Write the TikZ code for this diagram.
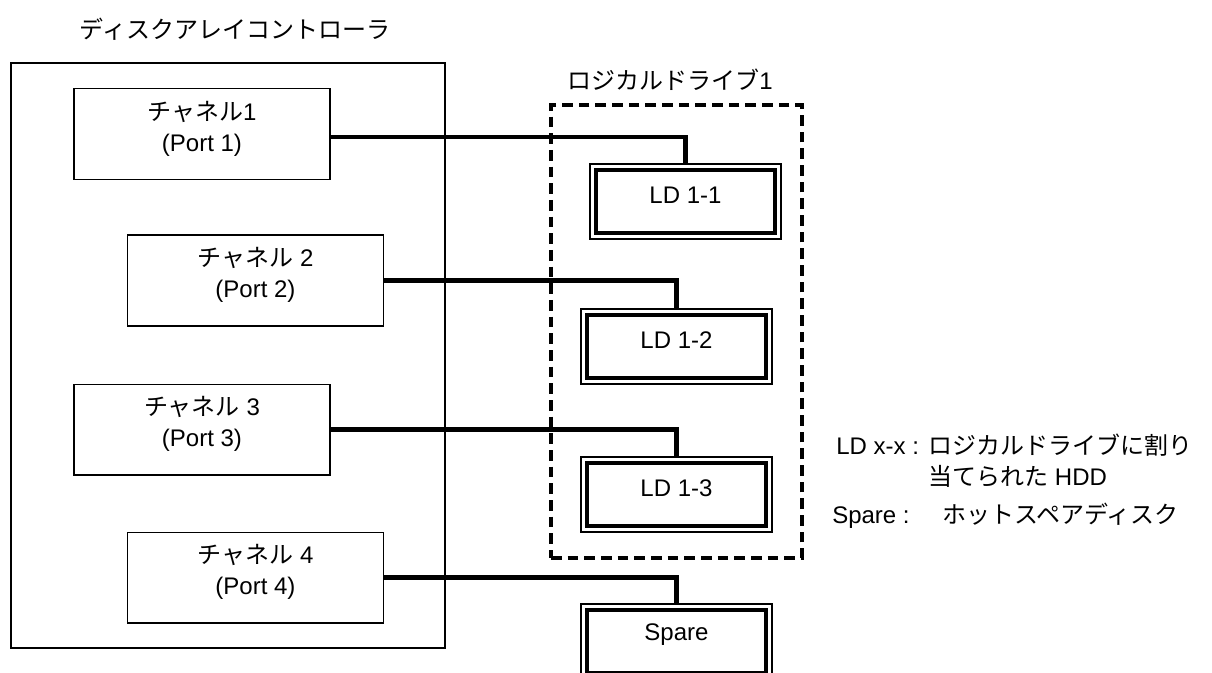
\documentclass[tikz,border=0pt]{standalone}
\usepackage{fontspec}
\setmainfont{Liberation Sans}
\newfontfamily\jp{Noto Sans CJK JP}
\begin{document}
\begin{tikzpicture}[x=0.75pt,y=-0.75pt,
  every node/.style={font=\fontsize{18}{23.25}\selectfont, inner sep=0pt},
  chbox/.style={draw, line width=1pt, minimum width=192pt, minimum height=68pt},
  ctrlbox/.style={draw, line width=1.6pt, minimum width=325.5pt, minimum height=438.75pt},
  grpbox/.style={draw, dash pattern=on 8pt off 4.5pt, line width=2.6pt, minimum width=188.25pt, minimum height=339.75pt},
  ldbox/.style={draw, line width=1.6pt, minimum width=143.25pt, minimum height=56.25pt,
    path picture={\draw[line width=2.4pt] ([shift={(4.5pt,-4.5pt)}]path picture bounding box.north west) rectangle ([shift={(-4.5pt,4.5pt)}]path picture bounding box.south east);}},
  wire/.style={line width=3.3pt},
  txt/.style={align=center},
  leg/.style={anchor=west, text height=0.8em, text depth=0.2em}
]
\useasboundingbox (0,0) rectangle (1212,673);

% controller
\node[ctrlbox] (ctrl) at (228,355.5) {};
\node (ttl) at (235,29) {\jp ディスクアレイコントローラ};

\node[chbox] (ch1) at (202,134) {};
\node[txt] (t1) at ([yshift=3.5pt]ch1.center) {{\jp チャネル}1\\(Port 1)};
\node[chbox] (ch2) at (255.5,280.5) {};
\node[txt] (t2) at ([yshift=4pt]ch2.center) {{\jp チャネル} 2\\(Port 2)};
\node[chbox] (ch3) at (202,429.5) {};
\node[txt] (t3) at ([yshift=4pt]ch3.center) {{\jp チャネル} 3\\(Port 3)};
\node[chbox] (ch4) at (255.5,577.5) {};
\node[txt] (t4) at ([yshift=4pt]ch4.center) {{\jp チャネル} 4\\(Port 4)};

% logical drive group
\node[grpbox] (grp) at (676.5,331.5) {};
\node (gl) at (670,80) {{\jp ロジカルドライブ}1};

\node[ldbox] (ld1) at (685.5,201.5) {};
\node (l1) at ([yshift=5pt]ld1.center) {LD 1-1};
\node[ldbox] (ld2) at (676.5,346.5) {};
\node (l2) at ([yshift=5pt]ld2.center) {LD 1-2};
\node[ldbox] (ld3) at (676.5,494.5) {};
\node (l3) at ([yshift=5pt]ld3.center) {LD 1-3};
\node[ldbox] (sp) at (676.5,641.5) {};
\node (l4) at ([yshift=5pt]sp.center) {Spare};

% connectors
\draw[wire] ([yshift=-2.25pt]ch1.east) -| (ld1.north);
\draw[wire] (ch2.east) -| (ld2.north);
\draw[wire] (ch3.east) -| (ld3.north);
\draw[wire] (ch4.east) -| (sp.north);

% legend
\node[leg] (k1) at (836,450) {LD x-x :};
\node[leg] (v1) at (928,450) {\jp ロジカルドライブに割り};
\node[leg] (v1b) at (928,481) {{\jp 当てられた} HDD};
\node[leg] (k2) at (832,519) {Spare :};
\node[leg] (v2) at (942,519) {\jp ホットスペアディスク};
\end{tikzpicture}
\end{document}
